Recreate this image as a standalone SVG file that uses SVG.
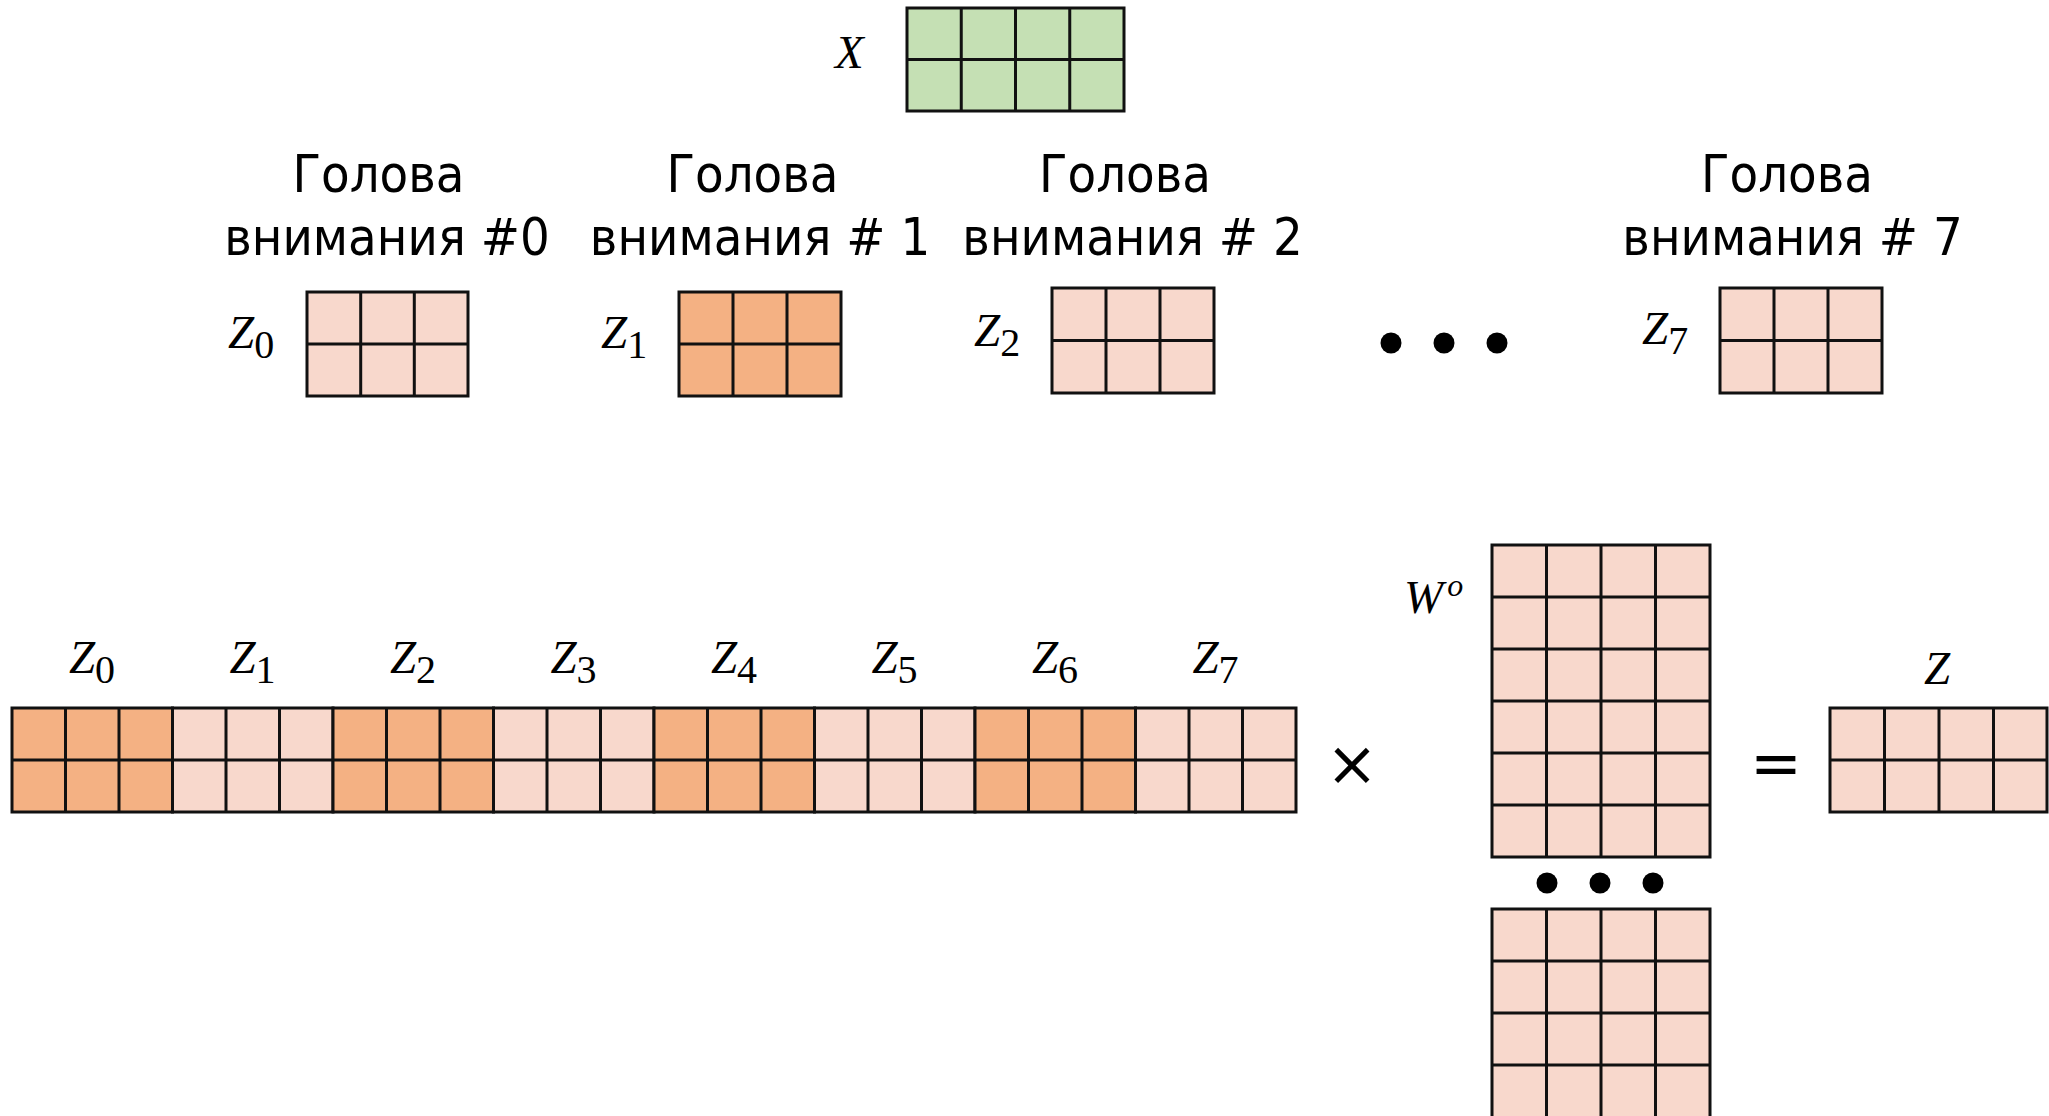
<svg xmlns="http://www.w3.org/2000/svg" width="2049" height="1116" viewBox="0 0 2049 1116">
<style>
.lt{fill:#F8D8CC;stroke:#111;stroke-width:3}
.dk{fill:#F4B183;stroke:#111;stroke-width:3}
.gr{fill:#C5E0B4;stroke:#111;stroke-width:3}
.gl{fill:none;stroke:#111;stroke-width:3}
.h1{font-family:"DejaVu Sans Condensed","DejaVu Sans",sans-serif;font-stretch:condensed;font-size:52px;fill:#000;text-anchor:middle}
.h2{font-family:"DejaVu Sans Condensed","DejaVu Sans",sans-serif;font-stretch:condensed;font-size:52px;fill:#000;text-anchor:middle}
.m{font-family:"Liberation Serif",serif;font-size:47px;fill:#000}
.mi{font-style:italic}
.op{font-family:"DejaVu Sans",sans-serif;font-size:62px;fill:#000;text-anchor:middle}
.dot{fill:#000}
</style>
<rect width="2049" height="1116" fill="#fff"/>

<g id="x-matrix">
<text class="m mi" x="835" y="68">X</text>
<rect class="gr" x="907" y="8" width="217" height="103"/>
<path class="gl" d="M961.25 8V111M1015.5 8V111M1069.75 8V111M907 59.5H1124"/>
</g>

<g id="head0">
<text class="h1" x="378.5" y="192">Голова</text>
<text class="h2" x="387" y="255">внимания #0</text>
<text class="m" x="228" y="348"><tspan class="mi">Z</tspan><tspan dy="10" font-size="40">0</tspan></text>
<rect class="lt" x="307" y="292" width="161" height="104"/>
<path class="gl" d="M360.7 292V396M414.3 292V396M307 344H468"/>
</g>

<g id="head1">
<text class="h1" x="752.5" y="192">Голова</text>
<text class="h2" x="760" y="255">внимания # 1</text>
<text class="m" x="601" y="348"><tspan class="mi">Z</tspan><tspan dy="10" font-size="40">1</tspan></text>
<rect class="dk" x="679" y="292" width="162" height="104"/>
<path class="gl" d="M733 292V396M787 292V396M679 344H841"/>
</g>

<g id="head2">
<text class="h1" x="1125" y="192">Голова</text>
<text class="h2" x="1132.5" y="255">внимания # 2</text>
<text class="m" x="974" y="346"><tspan class="mi">Z</tspan><tspan dy="10" font-size="40">2</tspan></text>
<rect class="lt" x="1052" y="288" width="162" height="105"/>
<path class="gl" d="M1106 288V393M1160 288V393M1052 340.5H1214"/>
</g>

<g id="ellipsis-heads">
<circle class="dot" cx="1391" cy="343" r="10.5"/>
<circle class="dot" cx="1444" cy="343" r="10.5"/>
<circle class="dot" cx="1497" cy="343" r="10.5"/>
</g>

<g id="head7">
<text class="h1" x="1787" y="192">Голова</text>
<text class="h2" x="1792.5" y="255">внимания # 7</text>
<text class="m" x="1642" y="344"><tspan class="mi">Z</tspan><tspan dy="10" font-size="40">7</tspan></text>
<rect class="lt" x="1720" y="288" width="162" height="105"/>
<path class="gl" d="M1774 288V393M1828 288V393M1720 340.5H1882"/>
</g>

<g id="concat">
<text class="m" x="92" y="673" text-anchor="middle"><tspan class="mi">Z</tspan><tspan dy="10" font-size="40">0</tspan></text>
<text class="m" x="252.5" y="673" text-anchor="middle"><tspan class="mi">Z</tspan><tspan dy="10" font-size="40">1</tspan></text>
<text class="m" x="413" y="673" text-anchor="middle"><tspan class="mi">Z</tspan><tspan dy="10" font-size="40">2</tspan></text>
<text class="m" x="573.5" y="673" text-anchor="middle"><tspan class="mi">Z</tspan><tspan dy="10" font-size="40">3</tspan></text>
<text class="m" x="734" y="673" text-anchor="middle"><tspan class="mi">Z</tspan><tspan dy="10" font-size="40">4</tspan></text>
<text class="m" x="894.5" y="673" text-anchor="middle"><tspan class="mi">Z</tspan><tspan dy="10" font-size="40">5</tspan></text>
<text class="m" x="1055" y="673" text-anchor="middle"><tspan class="mi">Z</tspan><tspan dy="10" font-size="40">6</tspan></text>
<text class="m" x="1215.5" y="673" text-anchor="middle"><tspan class="mi">Z</tspan><tspan dy="10" font-size="40">7</tspan></text>
<rect class="dk" x="12" y="708" width="160.5" height="104"/>
<rect class="lt" x="172.5" y="708" width="160.5" height="104"/>
<rect class="dk" x="333" y="708" width="160.5" height="104"/>
<rect class="lt" x="493.5" y="708" width="160.5" height="104"/>
<rect class="dk" x="654" y="708" width="160.5" height="104"/>
<rect class="lt" x="814.5" y="708" width="160.5" height="104"/>
<rect class="dk" x="975" y="708" width="160.5" height="104"/>
<rect class="lt" x="1135.5" y="708" width="160.5" height="104"/>
<path class="gl" d="M65.5 708V812M119 708V812M226 708V812M279.5 708V812M386.5 708V812M440 708V812M547 708V812M600.5 708V812M707.5 708V812M761 708V812M868 708V812M921.5 708V812M1028.5 708V812M1082 708V812M1189 708V812M1242.5 708V812M12 760H1296"/>
</g>

<g id="times">
<text class="op" x="1352" y="785">×</text>
</g>

<g id="w-matrix">
<text class="m" x="1404" y="613" font-size="52"><tspan class="mi">W</tspan><tspan class="mi" dx="4" dy="-17" font-size="32">o</tspan></text>
<rect class="lt" x="1492" y="545" width="218" height="312"/>
<path class="gl" d="M1546.5 545V857M1601 545V857M1655.5 545V857M1492 597H1710M1492 649H1710M1492 701H1710M1492 753H1710M1492 805H1710"/>
<circle class="dot" cx="1547" cy="883" r="10.5"/>
<circle class="dot" cx="1600" cy="883" r="10.5"/>
<circle class="dot" cx="1653" cy="883" r="10.5"/>
<rect class="lt" x="1492" y="909" width="218" height="210"/>
<path class="gl" d="M1546.5 909V1119M1601 909V1119M1655.5 909V1119M1492 961H1710M1492 1013H1710M1492 1065H1710"/>
</g>

<g id="equals">
<text class="op" x="1776" y="785">=</text>
</g>

<g id="z-result">
<text class="m mi" x="1937" y="684" text-anchor="middle">Z</text>
<rect class="lt" x="1830" y="708" width="217" height="104"/>
<path class="gl" d="M1884.5 708V812M1939 708V812M1993.5 708V812M1830 760H2047"/>
</g>
</svg>
